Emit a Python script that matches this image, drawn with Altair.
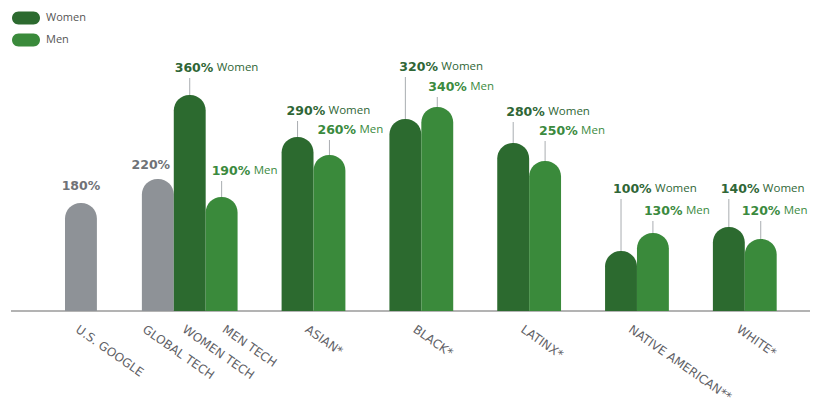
import altair as alt
import pandas as pd

# ---------------- data ----------------
single_names = ["U.S. GOOGLE", "GLOBAL TECH"]
single_values = [180, 220]
tech_names = ["WOMEN TECH", "MEN TECH"]
tech_series = ["Women", "Men"]
tech_values = [360, 190]
group_names = ["ASIAN*", "BLACK*", "LATINX*", "NATIVE AMERICAN**", "WHITE*"]
women_values = [290, 320, 280, 100, 140]
men_values = [260, 340, 250, 130, 120]
series_names = ["Women", "Men"]

# ---------------- layout / style ----------------
W, H = 802, 303
UNIT_PX = 31.9          # width of one bar in pixels
LEFT_PX = 57            # pixel position of first bar's left edge
Y_MAX = 505
PX_PER_PCT = H / Y_MAX
GAP_FIRST = 1.41        # gap (in bar widths) after first bar
GAP = 1.38              # gap between groups

DARK = "#2c6a2f"
LIGHT = "#3a8a3b"
GREY = "#8e9297"
DARK_TXT = "#2f6636"
LIGHT_TXT = "#3b8a3e"
GREY_TXT = "#6f7277"
AXIS_TXT = "#5f6166"
LINE_COL = "#a9adb1"

single_lift = [17, 14]
tech_lift = [27, 26]
women_lift = [26, 52, 31, 62, 38]
men_lift = [25, 20, 30, 22, 28]
single_label_shift = [0, -7]
tech_label_shift = [-15, -10]
women_label_shift = [-11, -6, -7, -8, -8]
men_label_shift = [-12, -9, -6, -9, -19]
single_axis_shift = [-1, -11]
tech_axis_shift = [-3, 5]
group_axis_shift = -4
WORD_DX = 42

# ---------------- build tables ----------------
bar_rows = []
axis_rows = []


def add_bar(series, value, start, lift, shift=0.0):
    label_val = value + lift / PX_PER_PCT
    bar_rows.append(dict(
        series=series, value=value, x0=start, x1=start + 1, xc=start + 0.5,
        lx=start + 0.5 + shift / UNIT_PX,
        label_y=label_val, line_top=label_val - 10 / PX_PER_PCT,
        pct=f"{value}%", word=series if series != "All" else "",
    ))


pos = 0.0
for i, (n, v) in enumerate(zip(single_names, single_values)):
    add_bar("All", v, pos, single_lift[i], single_label_shift[i])
    axis_rows.append(dict(name=n, ax=pos + 0.5 + single_axis_shift[i] / UNIT_PX))
    pos += 1 + (GAP_FIRST if i == 0 else 0)
for i, (n, s, v) in enumerate(zip(tech_names, tech_series, tech_values)):
    add_bar(s, v, pos, tech_lift[i], tech_label_shift[i])
    axis_rows.append(dict(name=n, ax=pos + 0.5 + tech_axis_shift[i] / UNIT_PX))
    pos += 1
for i, n in enumerate(group_names):
    pos += GAP
    add_bar("Women", women_values[i], pos, women_lift[i], women_label_shift[i])
    add_bar("Men", men_values[i], pos + 1, men_lift[i], men_label_shift[i])
    axis_rows.append(dict(name=n, ax=pos + 1 + group_axis_shift / UNIT_PX))
    pos += 2

df = pd.DataFrame(bar_rows)
axis_df = pd.DataFrame(axis_rows)

d0 = -LEFT_PX / UNIT_PX
d1 = d0 + W / UNIT_PX
x_scale = alt.Scale(domain=[d0, d1], nice=False, zero=False)
y_scale = alt.Scale(domain=[0, Y_MAX], nice=False)

PILL = ("M -0.536 -0.464 L 0.536 -0.464 A 0.464 0.464 0 0 1 0.536 0.464 "
        "L -0.536 0.464 A 0.464 0.464 0 0 1 -0.536 -0.464 Z")

base = alt.Chart(df)

baseline = alt.Chart(pd.DataFrame({"v": [0]})).mark_rule(
    color="#9a9a9a", strokeWidth=1.5
).encode(y=alt.Y("v:Q", scale=y_scale, axis=None), x=alt.value(3), x2=alt.value(W))

leaders = base.transform_filter("datum.series != 'All'").mark_rule(
    color=LINE_COL, strokeWidth=1
).encode(
    x=alt.X("xc:Q", scale=x_scale, axis=None),
    y=alt.Y("value:Q", scale=y_scale, axis=None),
    y2="line_top:Q",
)

bars = base.mark_bar(cornerRadiusTopLeft=15.5, cornerRadiusTopRight=15.5).encode(
    x=alt.X("x0:Q", scale=x_scale, axis=None),
    x2="x1:Q",
    y=alt.Y("value:Q", scale=y_scale, axis=None),
    y2=alt.datum(0),
    color=alt.Color(
        "series:N",
        scale=alt.Scale(domain=["Women", "Men", "All"], range=[DARK, LIGHT, GREY]),
        legend=alt.Legend(
            title=None, values=series_names, orient="none", legendX=4, legendY=-4,
            symbolType=PILL, symbolSize=784, symbolStrokeWidth=0, symbolOpacity=1,
            labelFont="Open Sans", labelFontSize=11, labelColor="#555555",
            labelOffset=6, rowPadding=1,
        ),
    ),
)

grey_txt = base.transform_filter("datum.series == 'All'").mark_text(
    align="center", baseline="middle", font="DejaVu Sans", fontWeight="bold",
    fontSize=12.5, color=GREY_TXT,
).encode(
    x=alt.X("lx:Q", scale=x_scale, axis=None),
    y=alt.Y("label_y:Q", scale=y_scale, axis=None),
    text="pct:N",
)


def series_text(series, color):
    sub = base.transform_filter(f"datum.series == '{series}'")
    enc = dict(
        x=alt.X("lx:Q", scale=x_scale, axis=None),
        y=alt.Y("label_y:Q", scale=y_scale, axis=None),
    )
    pct = sub.mark_text(
        align="left", baseline="middle", font="DejaVu Sans",
        fontWeight="bold", fontSize=12.5, color=color,
    ).encode(text="pct:N", **enc)
    word = sub.mark_text(
        align="left", baseline="middle", dx=WORD_DX, font="Open Sans",
        fontSize=11.5, color=color,
    ).encode(text="word:N", **enc)
    return pct + word


axis_labels = alt.Chart(axis_df).mark_text(
    align="left", baseline="top", angle=35, font="DejaVu Sans", fontSize=12,
    color=AXIS_TXT,
).encode(
    x=alt.X("ax:Q", scale=x_scale, axis=None),
    y=alt.value(H + 13),
    text="name:N",
)

chart = alt.layer(
    baseline, leaders, bars, grey_txt,
    series_text("Women", DARK_TXT), series_text("Men", LIGHT_TXT),
    axis_labels,
).properties(
    width=W, height=H,
    autosize=alt.AutoSizeParams(type="none"),
    padding={"left": 0, "top": 0, "right": 0, "bottom": 92},
    background="white",
).configure_view(stroke=None)

chart.save("out.html", embed_options={"renderer": "svg", "actions": False})
